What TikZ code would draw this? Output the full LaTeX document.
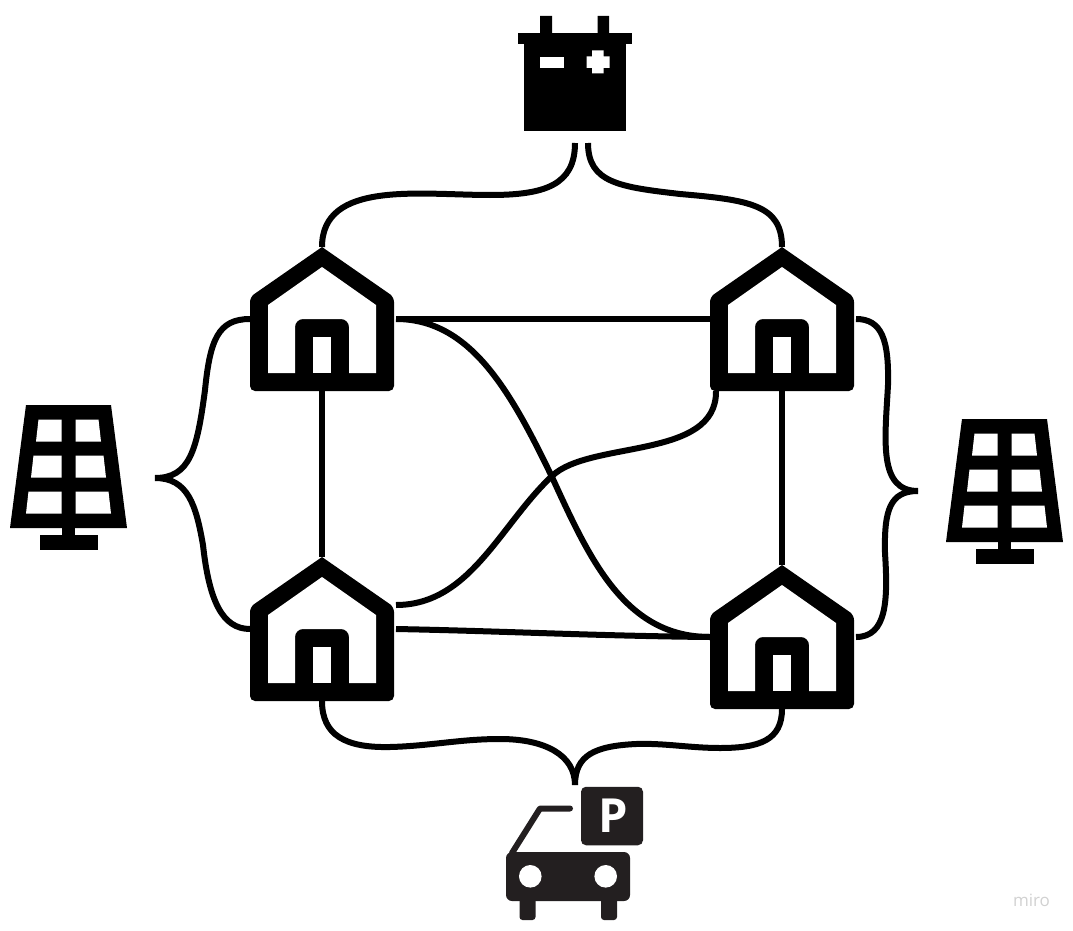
\documentclass[tikz,border=0pt]{standalone}
\usepackage{fontspec}
\setmainfont{Open Sans}
\definecolor{carblack}{HTML}{231F20}
\tikzset{
  iconbox/.style={inner sep=0pt,outer sep=0pt,minimum width=#1,minimum height=144pt},
  wire/.style={line width=6pt},
  house/.pic={
    \fill (0,-72) [rounded corners=5pt] -- (72,-22) -- (72,72) -- (-72,72) -- (-72,-22) [sharp corners] -- cycle;
    \fill[white,rounded corners=0pt]
      (0,-52) -- (54,-14) -- (54,54) -- (27,54) -- (27,8)
      arc[start angle=0,end angle=-90,radius=8] -- (-19,0)
      arc[start angle=-90,end angle=-180,radius=8] -- (-27,54) -- (-54,54) -- (-54,-14) -- cycle;
    \fill[white] (-9,18) rectangle (9,54);
  },
  solar/.pic={
    \fill (-42.5,-72.5) -- (42.5,-72.5) -- (58.5,50.5) -- (-58.5,50.5) -- cycle;
    \fill (-6.5,50) rectangle (6.5,58);
    \fill (-29,57.5) rectangle (29,72.5);
    \fill[white] (-30,-58) -- (-7,-58) -- (-7,-36) -- (-32.5,-36) -- cycle;
    \fill[white] (7,-58) -- (30,-58) -- (32.5,-36) -- (7,-36) -- cycle;
    \fill[white] (-35,-22) -- (-7,-22) -- (-7,0) -- (-37.5,0) -- cycle;
    \fill[white] (7,-22) -- (35,-22) -- (37.5,0) -- (7,0) -- cycle;
    \fill[white] (-40,14) -- (-7,14) -- (-7,36) -- (-42.5,36) -- cycle;
    \fill[white] (7,14) -- (40,14) -- (42.5,36) -- (7,36) -- cycle;
  }
}
\begin{document}
\begin{tikzpicture}[x=1pt,y=-1pt]
  \useasboundingbox (0,0) rectangle (1073,931);
  \draw
    (322,319) node[iconbox=144pt] (housenw){} pic{house}
    (782,319) node[iconbox=144pt] (houseen){} pic{house}
    (322,629) node[iconbox=144pt] (housesw){} pic{house}
    (782,637) node[iconbox=144pt] (housese){} pic{house}
    (68.5,477.5) node[iconbox=117pt] (solarw){} pic{solar}
    (1004.5,491.5) node[iconbox=117pt] (solare){} pic{solar};
  % battery
  \node[inner sep=0pt,minimum width=114pt,minimum height=115pt] (battery) at (574.5,73.5) {};
  \fill (540,16) rectangle (552,34) (597.5,16) rectangle (609,34);
  \fill (517.5,33.5) rectangle (631.5,44.5);
  \fill (523.5,44) rectangle (626,131);
  \fill[white] (540,57) rectangle (563.5,68);
  \fill[white] (586.5,56.5) rectangle (609.5,68) (592,50.5) rectangle (603.5,73.5);
  % car and sign
  \node[inner sep=0pt,minimum width=124pt,minimum height=69pt] (car) at (568,886) {};
  \node[fill=carblack,rounded corners=5pt,inner sep=0pt,minimum width=62pt,minimum height=58.5pt,
    text=white,font=\fontsize{47}{47}\selectfont\bfseries] (parking) at (612,816) {\hspace{2pt}P};
  \fill[carblack,rounded corners=6pt] (506,852) rectangle (630,901);
  \fill[carblack,rounded corners=3pt] (519.5,895) rectangle (535.5,920) (601,895) rectangle (617,920);
  \fill[white] (530.3,876.3) circle (11.3) (605.7,876.3) circle (11.3);
  \draw[carblack,line width=6pt,line cap=round,line join=round] (512,853) -- (540,808.5) -- (570,808.5);
  \node[text=black!18,font=\fontsize{17}{17}\selectfont] (miro) at (1031.5,900) {miro};
  % free ends
  \coordinate (battl) at (575,143);
  \coordinate (battr) at (588,143);
  \coordinate (tipw) at (155,478);
  \coordinate (tipe) at (918,491);
  \coordinate (tips) at (575,785);
  \begin{scope}[wire]
    \draw (battl) .. controls (575,185) and (545,195) .. (490,195)
      .. controls (420,195) and (322,180) .. (housenw.north);
    \draw (battr) .. controls (588,183) and (620,187) .. (680,194)
      .. controls (750,200) and (782,205) .. (houseen.north);
    \draw (housenw.west) .. controls (218,319) and (210,340) .. (205,390)
      .. controls (197,450) and (190,478) .. (tipw);
    \draw (tipw) .. controls (188,478) and (196,505) .. (203,545)
      .. controls (209,600) and (222,629) .. (housesw.west);
    \draw ([xshift=2pt]houseen.east) .. controls (882,319) and (889,340) .. (888,385)
      .. controls (885,440) and (878,491) .. (tipe);
    \draw (tipe) .. controls (890,491) and (884,510) .. (885,553)
      .. controls (888,600) and (887,637) .. ([xshift=2pt]housese.east);
    \draw (housesw.south) .. controls (322,735) and (345,748) .. (390,747)
      .. controls (430,746) and (460,739) .. (500,739)
      .. controls (545,739) and (575,755) .. (tips);
    \draw (tips) .. controls (575,755) and (595,746) .. (636,744)
      .. controls (665,743) and (690,748) .. (720,748)
      .. controls (760,748) and (782,740) .. (housese.south);
    \draw ([xshift=2pt]housenw.east) -- (houseen.west);
    \draw ([xshift=2pt]housesw.east) .. controls (500,631) and (600,636) .. (housese.west);
    \draw (housenw.south) -- ([yshift=72pt]housesw.center);
    \draw (houseen.south) -- ([yshift=72pt]housese.center);
    \draw ([xshift=2pt]housenw.east) .. controls (470,319) and (510,390) .. (552,477)
      .. controls (590,560) and (625,637) .. (housese.west);
    \draw ([xshift=2pt,yshift=24pt]housesw.east) .. controls (470,605) and (500,525) .. (552,476)
      .. controls (590,440) and (717,460) .. ([xshift=-66pt]houseen.south);
  \end{scope}
\end{tikzpicture}
\end{document}
